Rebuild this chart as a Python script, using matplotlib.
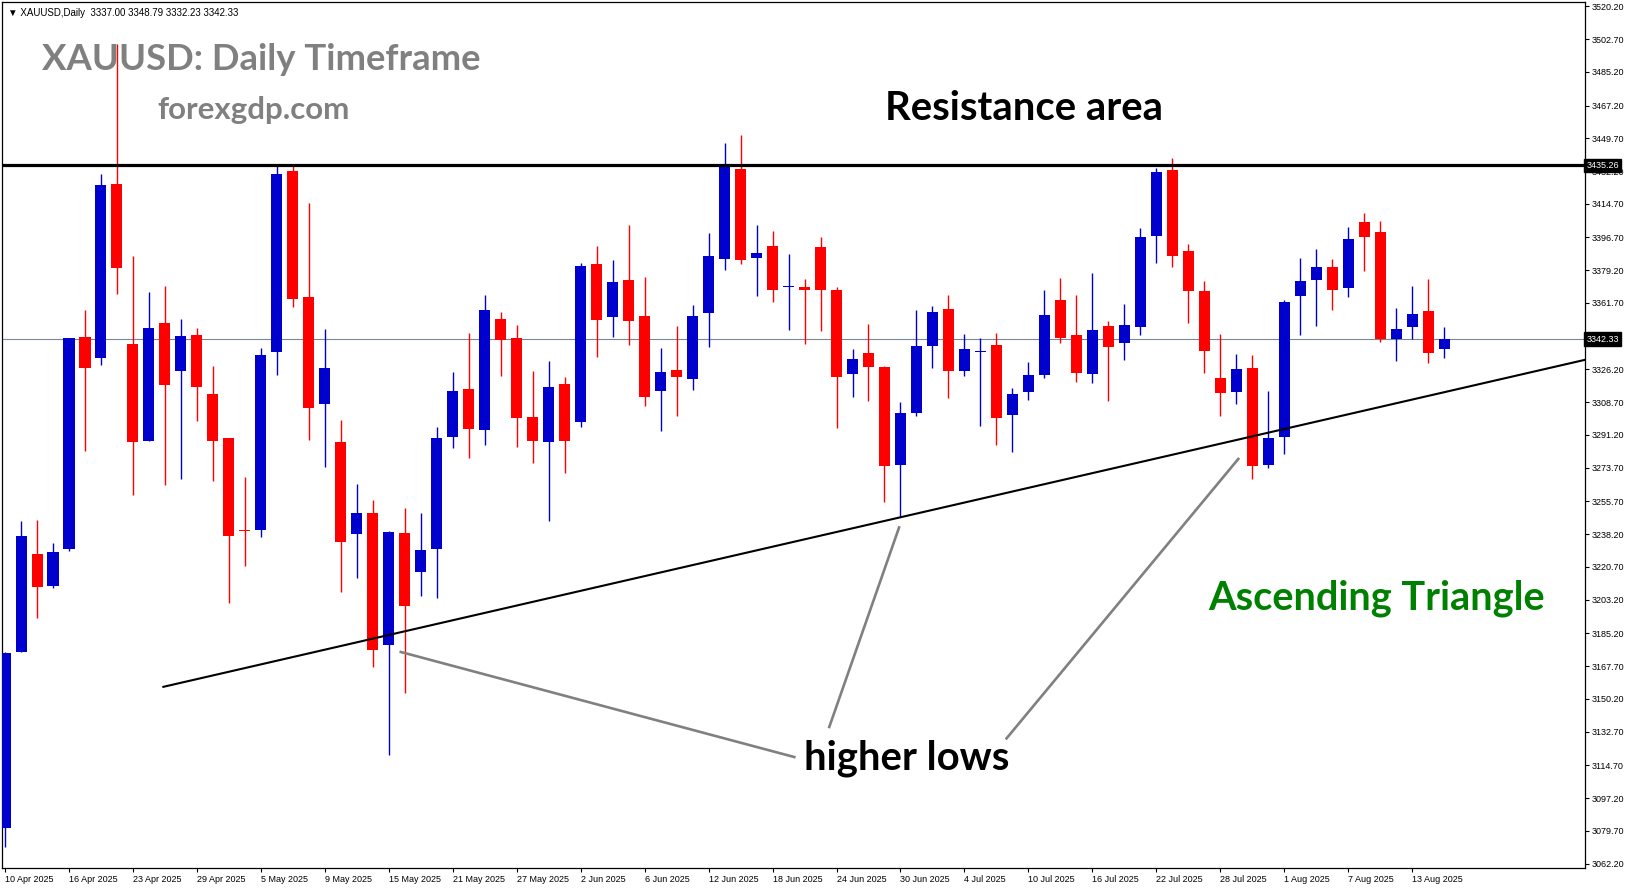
import numpy as np
import matplotlib
matplotlib.use("Agg")
import matplotlib.pyplot as plt

# daily XAUUSD candles, 10 Apr 2025 .. 15 Aug 2025
opens = [3081.4, 3175.4, 3227.6, 3210.3, 3230.0, 3343.4, 3332.2, 3425.2, 3340.0, 3288.2,
         3350.9, 3325.2, 3344.4, 3313.3, 3289.3, 3240.0, 3240.3, 3335.6, 3432.2, 3364.8,
         3307.6, 3287.2, 3238.0, 3249.6, 3179.0, 3238.8, 3217.8, 3230.0, 3290.0, 3315.9,
         3293.7, 3352.9, 3342.9, 3301.0, 3287.5, 3318.3, 3298.1, 3382.4, 3354.2, 3373.9,
         3354.5, 3314.6, 3325.7, 3321.1, 3356.3, 3385.3, 3433.2, 3385.8, 3392.0, 3370.0,
         3370.0, 3391.5, 3368.5, 3323.7, 3334.9, 3327.3, 3275.0, 3302.7, 3338.7, 3358.4,
         3325.2, 3335.5, 3339.0, 3301.7, 3314.1, 3323.4, 3363.1, 3344.4, 3323.7, 3349.3,
         3340.3, 3348.8, 3397.7, 3432.7, 3389.4, 3367.9, 3321.4, 3314.1, 3326.8, 3275.0,
         3290.0, 3365.6, 3374.1, 3380.9, 3369.8, 3405.0, 3399.6, 3342.4, 3348.8, 3357.4,
         3337.00]
highs = [3175.0, 3245.0, 3245.5, 3233.4, 3343.0, 3357.9, 3430.6, 3500.0, 3386.6, 3367.4,
         3370.5, 3352.9, 3348.5, 3327.8, 3289.8, 3268.8, 3337.4, 3434.7, 3434.7, 3415.3,
         3347.8, 3299.4, 3265.2, 3256.6, 3240.0, 3252.0, 3249.6, 3295.2, 3324.7, 3345.4,
         3365.9, 3356.8, 3349.9, 3325.2, 3330.9, 3322.4, 3383.2, 3392.0, 3384.5, 3403.2,
         3375.7, 3337.9, 3349.6, 3360.5, 3399.3, 3446.9, 3451.6, 3403.2, 3400.1, 3387.6,
         3374.4, 3397.2, 3370.0, 3336.9, 3350.4, 3327.8, 3308.9, 3357.9, 3360.2, 3365.9,
         3344.9, 3342.9, 3345.4, 3316.5, 3329.9, 3368.7, 3374.9, 3366.1, 3377.5, 3351.9,
         3361.0, 3401.6, 3434.0, 3439.1, 3393.1, 3373.3, 3344.9, 3334.3, 3333.8, 3314.4,
         3363.1, 3385.5, 3390.4, 3385.0, 3402.1, 3409.6, 3405.7, 3358.9, 3370.5, 3374.4,
         3348.79]
lows = [3071.0, 3175.0, 3193.2, 3209.5, 3229.0, 3282.8, 3328.4, 3366.4, 3259.2, 3288.0,
        3264.2, 3267.5, 3298.8, 3266.5, 3201.2, 3221.4, 3236.4, 3323.2, 3359.7, 3288.5,
        3274.0, 3207.0, 3214.7, 3167.4, 3120.0, 3153.4, 3205.1, 3203.8, 3284.3, 3278.6,
        3285.9, 3322.9, 3284.6, 3276.1, 3245.0, 3270.6, 3295.5, 3332.7, 3343.6, 3339.2,
        3306.4, 3293.2, 3301.2, 3315.1, 3338.2, 3379.3, 3382.4, 3365.6, 3362.3, 3347.2,
        3339.7, 3346.7, 3294.9, 3311.5, 3309.2, 3255.1, 3247.1, 3301.4, 3326.8, 3310.7,
        3322.9, 3296.0, 3285.9, 3282.0, 3309.7, 3321.6, 3340.3, 3319.5, 3319.0, 3309.2,
        3331.2, 3344.6, 3383.2, 3380.9, 3351.1, 3324.2, 3301.4, 3307.6, 3267.7, 3273.7,
        3281.0, 3344.6, 3349.6, 3358.1, 3365.1, 3378.8, 3340.8, 3330.7, 3342.4, 3329.6,
        3332.23]
closes = [3174.6, 3237.2, 3209.8, 3228.7, 3342.9, 3327.0, 3424.6, 3380.4, 3287.2, 3348.5,
          3318.0, 3343.9, 3316.7, 3288.0, 3237.0, 3239.6, 3333.8, 3430.6, 3363.8, 3305.6,
          3326.8, 3233.9, 3249.6, 3176.4, 3239.3, 3199.9, 3229.7, 3289.3, 3314.9, 3294.2,
          3357.9, 3342.1, 3300.2, 3288.0, 3317.0, 3288.0, 3381.4, 3352.7, 3372.9, 3352.2,
          3311.5, 3325.0, 3322.1, 3354.5, 3386.6, 3434.7, 3384.8, 3388.4, 3368.7, 3370.5,
          3368.5, 3368.7, 3322.1, 3332.0, 3327.6, 3274.5, 3302.7, 3338.5, 3356.8, 3325.2,
          3336.9, 3336.0, 3300.4, 3313.3, 3323.4, 3355.0, 3342.9, 3324.2, 3347.0, 3338.2,
          3349.9, 3396.9, 3431.6, 3386.9, 3368.2, 3336.1, 3313.6, 3326.3, 3274.5, 3289.8,
          3362.0, 3373.3, 3380.9, 3368.7, 3395.9, 3397.2, 3342.4, 3348.0, 3355.6, 3335.1,
          3342.33]

date_labels = ["10 Apr 2025", "16 Apr 2025", "23 Apr 2025", "29 Apr 2025", "5 May 2025",
               "9 May 2025", "15 May 2025", "21 May 2025", "27 May 2025", "2 Jun 2025",
               "6 Jun 2025", "12 Jun 2025", "18 Jun 2025", "24 Jun 2025", "30 Jun 2025",
               "4 Jul 2025", "10 Jul 2025", "16 Jul 2025", "22 Jul 2025", "28 Jul 2025",
               "1 Aug 2025", "7 Aug 2025", "13 Aug 2025"]
date_step = 4

price_ticks = [3520.20, 3502.70, 3485.20, 3467.20, 3449.70, 3432.20, 3414.70, 3396.70,
               3379.20, 3361.70, 3326.20, 3308.70, 3291.20, 3273.70, 3255.70, 3238.20,
               3220.70, 3203.20, 3185.20, 3167.70, 3150.20, 3132.70, 3114.70, 3097.20,
               3079.70, 3062.20]

resistance = 3435.26
last_price = 3342.33

# drawn analysis: rising support line and the "higher lows" pointers
trend_x = [9.9, 98.8]
trend_y = [3156.6, 3331.3]
pointers = [([24.67, 49.44], [3175.4, 3118.9]),
            ([55.94, 51.52], [3242.4, 3134.5]),
            ([77.18, 62.58], [3278.9, 3128.5])]

W, H = 1631, 888
fig = plt.figure(figsize=(W / 100, H / 100), dpi=100)
ax = fig.add_axes([2 / W, 20 / H, 1583 / W, 866 / H])

o = np.array(opens)
h = np.array(highs)
l = np.array(lows)
c = np.array(closes)
x = np.arange(len(o))
colors = np.where(c >= o, "#0000CC", "#FF0000")

ax.vlines(x, l, h, colors=colors, linewidth=1.0, zorder=4)
ax.bar(x, np.maximum(np.abs(c - o), 0.7), bottom=np.minimum(o, c), width=0.69,
       color=colors, linewidth=0, zorder=5)

ax.axhline(resistance, color="black", linewidth=2.3, zorder=6)
ax.axhline(last_price, color="#778899", linewidth=0.8, zorder=2)
ax.plot(trend_x, trend_y, color="black", linewidth=1.5, zorder=6)
for px, py in pointers:
    ax.plot(px, py, color="#808080", linewidth=1.9, zorder=6, solid_capstyle="butt")

ax.set_xlim(-0.19, 98.81)
ax.set_ylim(3059.8, 3522.5)

tick_font = "Liberation Sans"
ax.set_xticks(np.arange(len(date_labels)) * date_step)
ax.set_xticklabels(date_labels, ha="left", fontsize=6.5, family=tick_font)
ax.yaxis.tick_right()
ax.set_yticks(price_ticks)
ax.set_yticklabels([f"{v:.2f}" for v in price_ticks], fontsize=6.5, family=tick_font)
ax.tick_params(axis="both", direction="out", length=3, width=0.8, pad=2, colors="black")
for s in ax.spines.values():
    s.set_color("black")
    s.set_linewidth(0.9)

for v in (resistance, last_price):
    ax.text(1.001, v, f"{v:.2f}", transform=ax.get_yaxis_transform(), color="white",
            fontsize=6.5, family=tick_font, va="center", ha="left", zorder=10, clip_on=False,
            bbox=dict(boxstyle="square,pad=0.25", fc="black", ec="black"))

ax.text(0.004, 0.993, "\u25bc XAUUSD,Daily  3337.00 3348.79 3332.23 3342.33",
        transform=ax.transAxes, fontsize=7, family=[tick_font, "DejaVu Sans"],
        va="top", ha="left")


def label(px, py, s, color, size):
    fig.text(px / W, 1 - py / H, s, color=color, fontsize=size, fontweight="bold",
             family=["Lato", "DejaVu Sans"], va="baseline", ha="left", zorder=1)


label(42, 70.5, "XAUUSD: Daily Timeframe", "#808080", 26.3)
label(157, 119.5, "forexgdp.com", "#808080", 22.5)
label(885, 119.5, "Resistance area", "black", 28.8)
label(804, 769.5, "higher lows", "black", 28.8)
label(1208, 609.5, "Ascending Triangle", "#008000", 28.6)

fig.savefig("out.png", dpi=100, facecolor="white")
